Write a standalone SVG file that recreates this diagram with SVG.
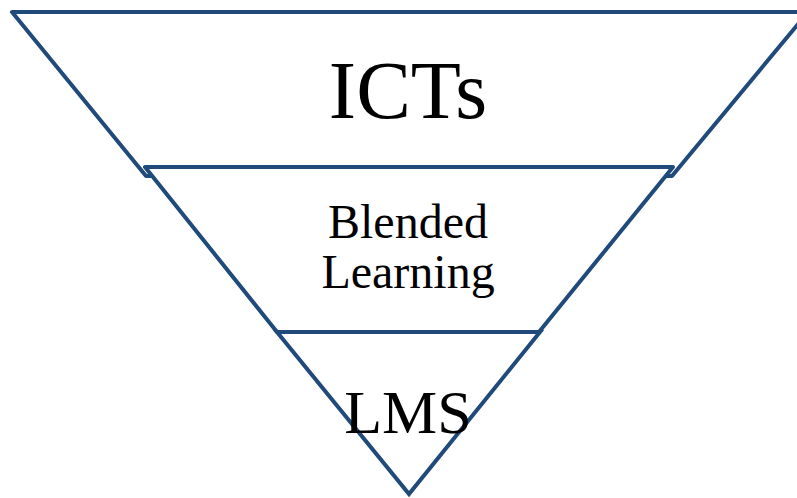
<svg xmlns="http://www.w3.org/2000/svg" width="797" height="498" viewBox="0 0 797 498">
<style>
.band{fill:#ffffff;stroke:#1F4A7A;stroke-width:4;stroke-linejoin:round}
.lbl{font-family:"Liberation Serif","Times New Roman",serif;fill:#000;text-anchor:middle}
</style>
<rect width="797" height="498" fill="#ffffff"/>
<g id="ict">
<polygon class="band" points="12,12 808,12 672,176 146,176"/>
<text class="lbl" x="408" y="118" font-size="82">ICTs</text>
</g>
<g id="blended">
<polygon class="band" points="145,167 673,167 539,332 277,332"/>
<text class="lbl" x="408" y="238" font-size="48">Blended</text>
<text class="lbl" x="408" y="288" font-size="48">Learning</text>
</g>
<g id="lms">
<polygon class="band" points="277,332 540,332 409,494" style="stroke-linejoin:miter"/>
<text class="lbl" x="408" y="433" font-size="62">LMS</text>
</g>
<g id="connectors"></g>
</svg>
